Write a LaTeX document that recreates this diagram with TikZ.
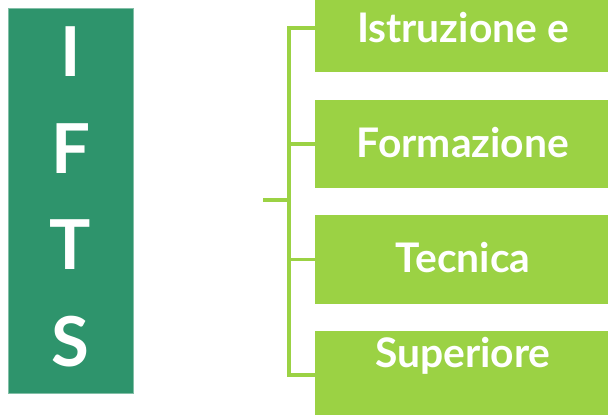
\documentclass[tikz,border=0pt]{standalone}
\usepackage{fontspec}
\setmainfont{Lato}
\definecolor{vertfonce}{RGB}{46,148,108}
\definecolor{vertclair}{RGB}{155,210,68}
\begin{document}
\begin{tikzpicture}[x=0.025cm,y=-0.025cm]
\tikzstyle{colonne}=[fill=vertfonce, draw=vertfonce!60!white, line width=0.3pt, minimum width=3.125cm, minimum height=9.625cm, inner sep=0pt];
\tikzstyle{lettre}=[text=white, font=\bfseries\fontsize{49}{49}\selectfont, anchor=base, inner sep=0pt];
\tikzstyle{case}=[fill=vertclair, minimum width=7.4cm, minimum height=2.2cm, inner sep=0pt];
\tikzstyle{mot}=[text=white, font=\bfseries\fontsize{29}{29}\selectfont, anchor=base, inner sep=0pt];
\tikzstyle{accolade}=[line width=2.2pt, vertclair];
\useasboundingbox (0,0) rectangle (608,415);
\clip (0,0) rectangle (608,415);

\node[colonne] (ifts) at (70.5,200.5) {};
\node[lettre] (I) at (70.5,76) {I};
\node[lettre] (F) at (70.5,173) {F};
\node[lettre] (T) at (70.5,269) {T};
\node[lettre] (S) at (70.5,366) {S};

\node[case] (b1) at (463,28) {};
\node[case] (b2) at (463,144) {};
\node[case] (b3) at (463,259.5) {};
\node[case] (b4) at (463,375) {};
\node[mot] (m1) at (463,42) {Istruzione e};
\node[mot] (m2) at (463,157) {Formazione};
\node[mot] (m3) at (463,272) {Tecnica};
\node[mot] (m4) at (463,367) {Superiore};

\coordinate (entree) at (263,200);
\coordinate (pivot) at (289,200);
\draw[accolade] (entree) -- (pivot);
\draw[accolade] (pivot) |- (b1.west);
\draw[accolade] (pivot) |- (b2.west);
\draw[accolade] (pivot) |- (b3.west);
\draw[accolade] (pivot) |- (b4.west);
\end{tikzpicture}
\end{document}
